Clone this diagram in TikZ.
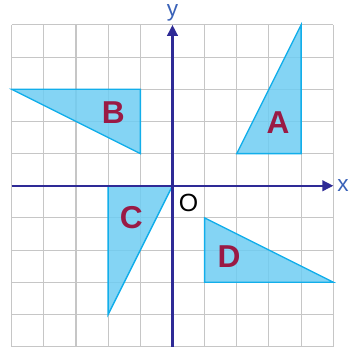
\documentclass[tikz,border=0pt]{standalone}
\usepackage{fontspec}
\setmainfont{Liberation Sans}
\usetikzlibrary{arrows.meta}
\definecolor{gridgray}{HTML}{C6C6C6}
\definecolor{axisblue}{HTML}{2E2A96}
\definecolor{trifill}{HTML}{6FCDF2}
\definecolor{triedge}{HTML}{12AEEA}
\definecolor{lblred}{HTML}{9A1A45}
\definecolor{axlbl}{HTML}{3A62B8}
\tikzset{
  gridline/.style={draw=gridgray, line width=0.9pt},
  axisline/.style={draw=axisblue, line width=1.9pt, -{Triangle[length=3.4mm,width=3.3mm]}},
  tri/.style={draw=triedge, fill=trifill, fill opacity=0.85, line width=1.2pt, line join=miter},
  trilbl/.style={text=lblred, font=\fontsize{28}{28}\selectfont\bfseries, inner sep=0pt},
  axlabel/.style={text=axlbl, font=\fontsize{20}{20}\selectfont, inner sep=0pt},
  olabel/.style={text=black, font=\fontsize{22}{22}\selectfont, inner sep=0pt}
}
\begin{document}
\begin{tikzpicture}
\useasboundingbox (-5.363,-5.071) rectangle (5.488,5.776);
\draw[gridline] (-5,-5) grid (5,5);
% triangles
\filldraw[tri] (2,1) -- (4,1) -- (4,5) -- cycle;
\filldraw[tri] (-5,3) -- (-1,3) -- (-1,1) -- cycle;
\filldraw[tri] (-2,0) -- (0,0) -- (-2,-4) -- cycle;
\filldraw[tri] (1,-1) -- (1,-3) -- (5,-3) -- cycle;
% axes
\coordinate (xs) at (-5,0);
\coordinate (xe) at (5,0);
\coordinate (ys) at (0,-5);
\coordinate (ye) at (0,5);
\draw[axisline] (xs) -- (xe);
\draw[axisline] (ys) -- (ye);
% labels
\node[trilbl] (la) at (3.28,1.96) {A};
\node[trilbl] (lb) at (-1.84,2.27) {B};
\node[trilbl] (lc) at (-1.28,-1.0) {C};
\node[trilbl] (ld) at (1.76,-2.2) {D};
\node[olabel] (lo) at (0.5,-0.54) {O};
\node[axlabel] (lx) at (5.3,0.0) {x};
\node[axlabel] (ly) at (0,5.37) {y};
\end{tikzpicture}
\end{document}
